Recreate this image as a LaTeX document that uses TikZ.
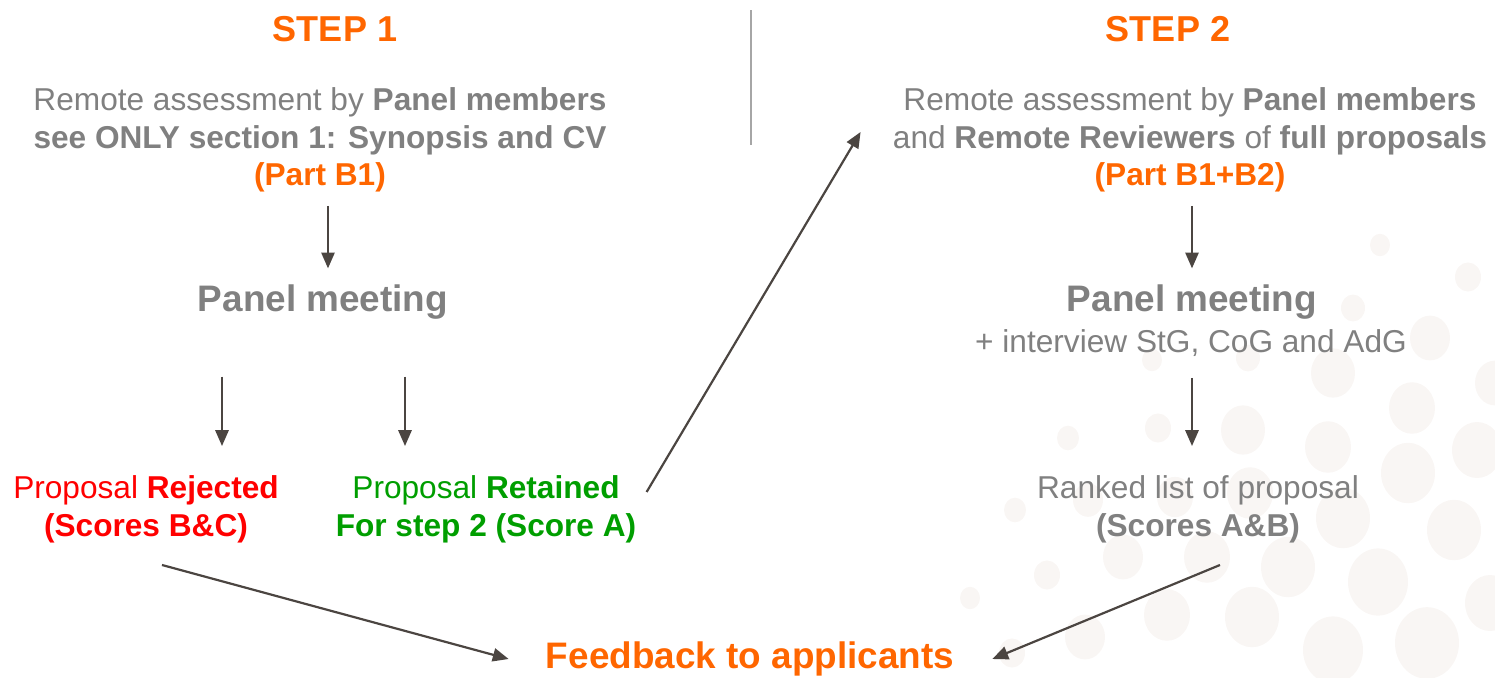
\documentclass[tikz,border=0pt]{standalone}
\usepackage{fontspec}
\setmainfont{Liberation Sans}
\usetikzlibrary{arrows.meta}

\definecolor{ercorange}{RGB}{255,102,0}
\definecolor{ercgray}{RGB}{128,128,128}
\definecolor{ercred}{RGB}{255,0,0}
\definecolor{ercgreen}{RGB}{0,158,0}
\definecolor{arrowbrown}{RGB}{75,69,65}
\definecolor{dotfill}{RGB}{249,246,244}

\tikzset{
  arr/.style={arrowbrown, line width=1.25pt, -{Triangle[length=9pt,width=7.5pt]}},
  body/.style={font=\fontsize{18}{21.5}\selectfont, align=center, inner sep=0pt},
  head/.style={font=\fontsize{21}{25}\selectfont\bfseries, inner sep=0pt},
  steptitle/.style={font=\fontsize{20.5}{24}\selectfont\bfseries, text=ercorange, inner sep=0pt},
}

\begin{document}
\begin{tikzpicture}[x=0.02cm, y=-0.02cm]

  % frame
  \useasboundingbox (0,0) rectangle (1495,677);

  % background dots
  \foreach \dx/\dy/\dr in {1380/245/10, 1468/277/13, 1353/308/12, 1430/338/20,
      1333/373/22, 1495/383/20, 1412/408/23, 1248/358/12, 1152/360/10,
      1243/430/22, 1158/428/13, 1068/438/11, 1328/447/23, 1477/450/25,
      1408/473/27, 1250/493/23, 1175/497/18, 1088/500/15, 1015/510/11,
      1343/518/27, 1454/530/27, 1123/557/20, 1207/557/23, 1288/567/27,
      1047/575/13, 1378/582/30, 1490/603/25, 1085/637/20, 1167/615/23,
      1252/617/27, 1333/650/30, 1427/643/32, 1012/653/13, 970/598/10}
    \fill[dotfill] (\dx,\dy) ellipse [x radius=\dr, y radius=1.12*\dr];

  % divider
  \draw[ercgray!70, line width=0.6pt] (751,10) -- (751,145);

  % step 1
  \node[steptitle] (step1) at (335,29) {STEP 1};
  \node[body, text=ercgray] (remote1) at (320,140)
    {Remote assessment by \textbf{Panel members}\\
     \textbf{see ONLY section 1: Synopsis and CV}\\
     \textbf{\textcolor{ercorange}{(Part B1)}}};
  \node[head, text=ercgray] (meet1) at (323,302) {Panel meeting};
  \node[body, text=ercred] (rej) at (146,509)
    {Proposal \textbf{Rejected}\\ \textbf{(Scores B\&C)}};
  \node[body, text=ercgreen] (ret) at (486,509)
    {Proposal \textbf{Retained}\\ \textbf{For step 2 (Score A)}};

  % step 2
  \node[steptitle] (step2) at (1168,29) {STEP 2};
  \node[body, text=ercgray] (remote2) at (1190,140)
    {Remote assessment by \textbf{Panel members}\\
     and \textbf{Remote Reviewers} of \textbf{full proposals}\\
     \textbf{\textcolor{ercorange}{(Part B1+B2)}}};
  \node[head, text=ercgray] (meet2) at (1192,302) {Panel meeting};
  \node[body, text=ercgray] (interview) at (1191,343) {+ interview StG, CoG and AdG};
  \node[body, text=ercgray] (rank) at (1198,509)
    {Ranked list of proposal\\ \textbf{(Scores A\&B)}};

  % feedback
  \node[head, text=ercorange] (feed) at (750,659) {Feedback to applicants};

  % arrows step 1
  \draw[arr] ([shift={(8,13)}]remote1.south) -- ([shift={(5,-16)}]meet1.north);
  \draw[arr] ([shift={(-101,57)}]meet1.south) -- ([shift={(76,-29)}]rej.north);
  \draw[arr] ([shift={(82,57)}]meet1.south) -- ([shift={(-81,-29)}]ret.north);
  \draw[arr] ([shift={(10,-17)}]ret.east) -- ([shift={(-32,-8)}]remote2.west);

  % arrows step 2
  \draw[arr] ([shift={(2,13)}]remote2.south) -- ([shift={(0,-16)}]meet2.north);
  \draw[arr] ([shift={(1,21)}]interview.south) -- ([shift={(-6,-29)}]rank.north);

  % arrows to feedback
  \draw[arr] ([shift={(16,22)}]rej.south) -- ([shift={(-37,0)}]feed.west);
  \draw[arr] ([shift={(22,22)}]rank.south) -- ([shift={(38,0)}]feed.east);

\end{tikzpicture}
\end{document}
